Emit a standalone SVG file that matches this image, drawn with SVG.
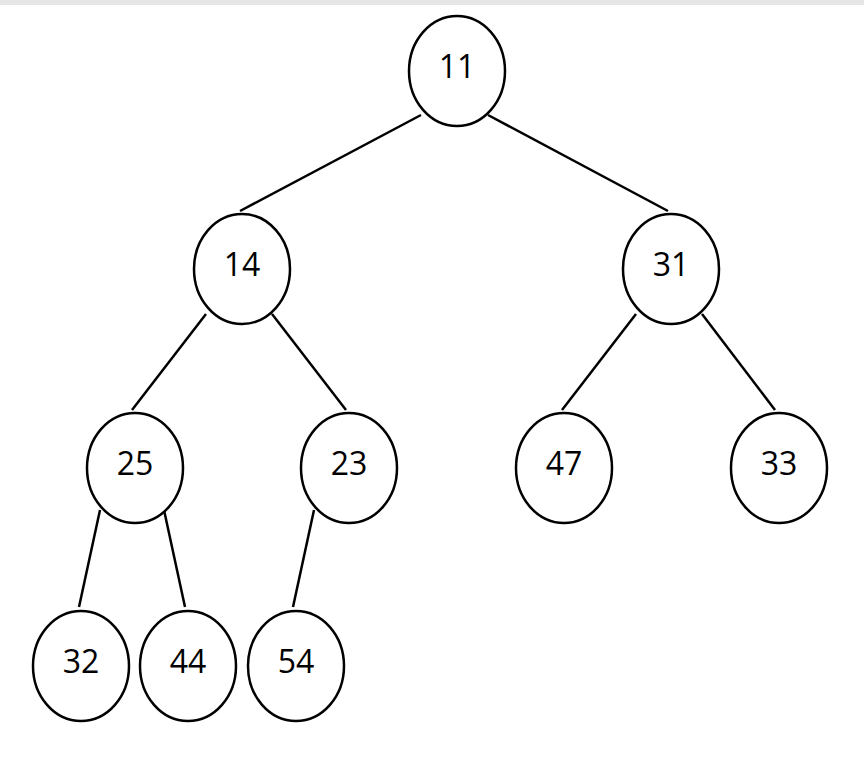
<svg xmlns="http://www.w3.org/2000/svg" width="864" height="765" viewBox="0 0 864 765">
<style>
.n ellipse{fill:#fff;stroke:#000;stroke-width:2.5}
.n text{font-family:"Open Sans","Noto Sans",sans-serif;font-size:32px;text-anchor:middle;fill:#000}
.c line{stroke:#000;stroke-width:2.5}
</style>
<rect x="0" y="0" width="864" height="765" fill="#fff"/>
<rect x="0" y="0" width="864" height="5" fill="#e6e6e6"/>
<g class="c">
<line x1="421" y1="115" x2="240" y2="211"/>
<line x1="488" y1="115" x2="668" y2="211"/>
<line x1="206" y1="314" x2="132" y2="410"/>
<line x1="272" y1="314" x2="346" y2="410"/>
<line x1="636" y1="314" x2="562" y2="410"/>
<line x1="702" y1="314" x2="775" y2="410"/>
<line x1="100" y1="510" x2="79" y2="607"/>
<line x1="164" y1="510" x2="185" y2="607"/>
<line x1="314" y1="510" x2="293" y2="607"/>
</g>
<g id="n11" class="n"><ellipse cx="457" cy="71" rx="48" ry="55"/><text x="457" y="78">11</text></g>
<g id="n14" class="n"><ellipse cx="242" cy="269" rx="48" ry="55"/><text x="242" y="276">14</text></g>
<g id="n31" class="n"><ellipse cx="671" cy="269" rx="48" ry="55"/><text x="671" y="276">31</text></g>
<g id="n25" class="n"><ellipse cx="135" cy="468" rx="48" ry="55"/><text x="135" y="475">25</text></g>
<g id="n23" class="n"><ellipse cx="349" cy="468" rx="48" ry="55"/><text x="349" y="475">23</text></g>
<g id="n47" class="n"><ellipse cx="564" cy="468" rx="48" ry="55"/><text x="564" y="475">47</text></g>
<g id="n33" class="n"><ellipse cx="779" cy="468" rx="48" ry="55"/><text x="779" y="475">33</text></g>
<g id="n32" class="n"><ellipse cx="81" cy="666" rx="48" ry="55"/><text x="81" y="673">32</text></g>
<g id="n44" class="n"><ellipse cx="188" cy="666" rx="48" ry="55"/><text x="188" y="673">44</text></g>
<g id="n54" class="n"><ellipse cx="296" cy="666" rx="48" ry="55"/><text x="296" y="673">54</text></g>
</svg>
